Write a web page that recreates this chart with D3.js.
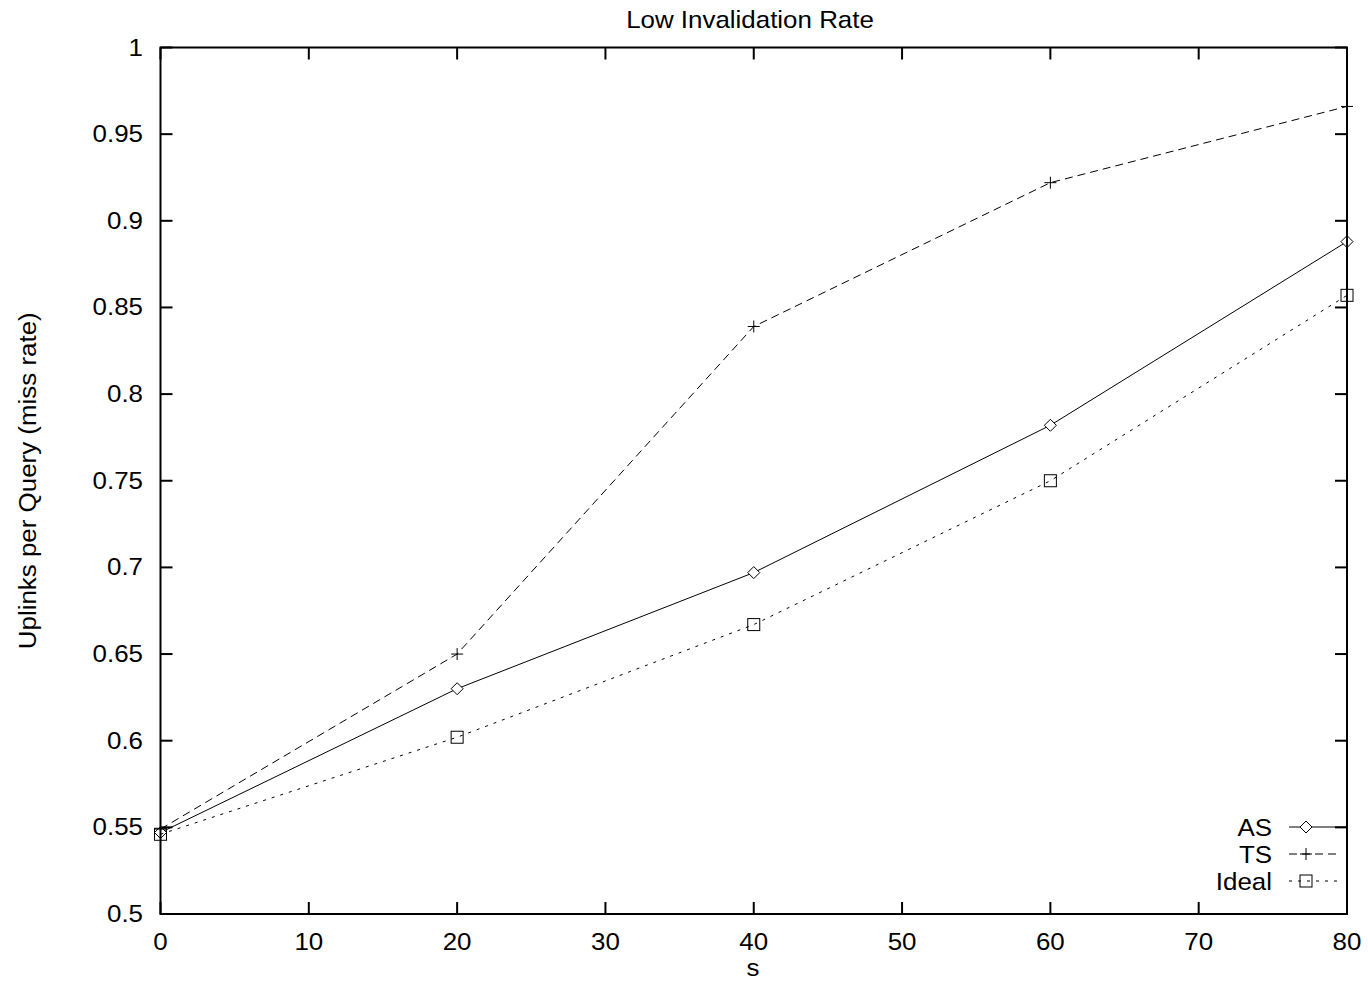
<!DOCTYPE html>
<html>
<head>
<meta charset="utf-8">
<script src="https://cdn.jsdelivr.net/npm/d3@7"></script>
<style>
  body { margin: 0; background: #fff; }
  text { font-family: "Liberation Sans", Arial, sans-serif; fill: #000; font-size: 24px; }
</style>
</head>
<body>
<script>
//data
var sValues = [0, 20, 40, 60, 80];
var asValues = [0.547, 0.630, 0.697, 0.782, 0.888];
var tsValues = [0.549, 0.650, 0.839, 0.922, 0.966];
var idealValues = [0.546, 0.602, 0.667, 0.750, 0.857];
var seriesNames = ["AS", "TS", "Ideal"];
var xTicks = [0, 10, 20, 30, 40, 50, 60, 70, 80];
var yTicks = [0.5, 0.55, 0.6, 0.65, 0.7, 0.75, 0.8, 0.85, 0.9, 0.95, 1];

(function() {

var width = 1368, height = 982;
var plotLeft = 160.5, plotRight = 1347, plotTop = 47.5, plotBottom = 914;
var tickLen = 12;
var stretch = 1.08;   //gnuplot font is a bit wider than Liberation Sans

var svg = d3.select("body").append("svg")
    .attr("width", width)
    .attr("height", height);

var x = d3.scaleLinear().domain([0, 80]).range([plotLeft, plotRight]);
var y = d3.scaleLinear().domain([0.5, 1]).range([plotBottom, plotTop]);

//helper for text
function addText(px, py, str, anchor, rot) {
    return svg.append("text")
        .attr("transform", "translate(" + px + "," + py + ")" + (rot ? " rotate(" + rot + ")" : "") + " scale(" + stretch + ",1)")
        .attr("text-anchor", anchor)
        .text(str);
}

//title and axis labels
addText(750, 28, "Low Invalidation Rate", "middle");
addText(753, 976, "s", "middle");
addText(36, (plotTop + plotBottom) / 2, "Uplinks per Query (miss rate)", "middle", -90);

//axes - ticks inward, mirrored on opposite side
var ticksG = svg.append("g").attr("stroke", "#000").attr("stroke-width", 2);

xTicks.forEach(function(t) {
    ticksG.append("line")
        .attr("x1", x(t)).attr("x2", x(t))
        .attr("y1", plotBottom).attr("y2", plotBottom - tickLen);
    ticksG.append("line")
        .attr("x1", x(t)).attr("x2", x(t))
        .attr("y1", plotTop).attr("y2", plotTop + tickLen);
    addText(x(t), 950, t, "middle");
});

yTicks.forEach(function(t) {
    ticksG.append("line")
        .attr("x1", plotLeft).attr("x2", plotLeft + tickLen)
        .attr("y1", y(t)).attr("y2", y(t));
    ticksG.append("line")
        .attr("x1", plotRight).attr("x2", plotRight - tickLen)
        .attr("y1", y(t)).attr("y2", y(t));
    addText(143, y(t) + 8, d3.format("~g")(t), "end");
});

//series
var series = [
    { name: seriesNames[0], values: asValues, dash: null, marker: "diamond" },
    { name: seriesNames[1], values: tsValues, dash: "8,5", marker: "plus" },
    { name: seriesNames[2], values: idealValues, dash: "3,6", marker: "square" }
];

var line = d3.line()
    .x(function(d, i) { return x(sValues[i]); })
    .y(function(d) { return y(d); });

function drawMarker(g, type, cx, cy) {
    if (type == "diamond") {
        g.append("path")
            .attr("d", "M" + cx + "," + (cy - 6) + "L" + (cx + 6) + "," + cy + "L" + cx + "," + (cy + 6) + "L" + (cx - 6) + "," + cy + "Z")
            .attr("fill", "#fff").attr("stroke", "#000").attr("stroke-width", 1);
    } else if (type == "plus") {
        g.append("path")
            .attr("d", "M" + (cx - 6) + "," + cy + "H" + (cx + 6) + "M" + cx + "," + (cy - 6) + "V" + (cy + 6))
            .attr("fill", "none").attr("stroke", "#000").attr("stroke-width", 1);
    } else {
        g.append("rect")
            .attr("x", cx - 6).attr("y", cy - 6)
            .attr("width", 12).attr("height", 12)
            .attr("fill", "none").attr("stroke", "#000").attr("stroke-width", 1);
    }
}

var legendY = [827, 854, 881];

series.forEach(function(s, k) {
    var g = svg.append("g");
    g.append("path")
        .datum(s.values)
        .attr("d", line)
        .attr("fill", "none")
        .attr("stroke", "#000")
        .attr("stroke-width", 1)
        .attr("stroke-dasharray", s.dash);
    s.values.forEach(function(v, i) {
        drawMarker(g, s.marker, x(sValues[i]), y(v));
    });

    //legend entry
    addText(1272, legendY[k] + 8.5, s.name, "end");
    g.append("line")
        .attr("x1", 1289).attr("x2", k == 0 ? plotRight : 1338)
        .attr("y1", legendY[k]).attr("y2", legendY[k])
        .attr("stroke", "#000")
        .attr("stroke-width", 1)
        .attr("stroke-dasharray", s.dash);
    drawMarker(g, s.marker, 1306, legendY[k]);
});

//frame
svg.append("rect")
    .attr("x", plotLeft).attr("y", plotTop)
    .attr("width", plotRight - plotLeft).attr("height", plotBottom - plotTop)
    .attr("fill", "none")
    .attr("stroke", "#000")
    .attr("stroke-width", 2);

})();
</script>
</body>
</html>
